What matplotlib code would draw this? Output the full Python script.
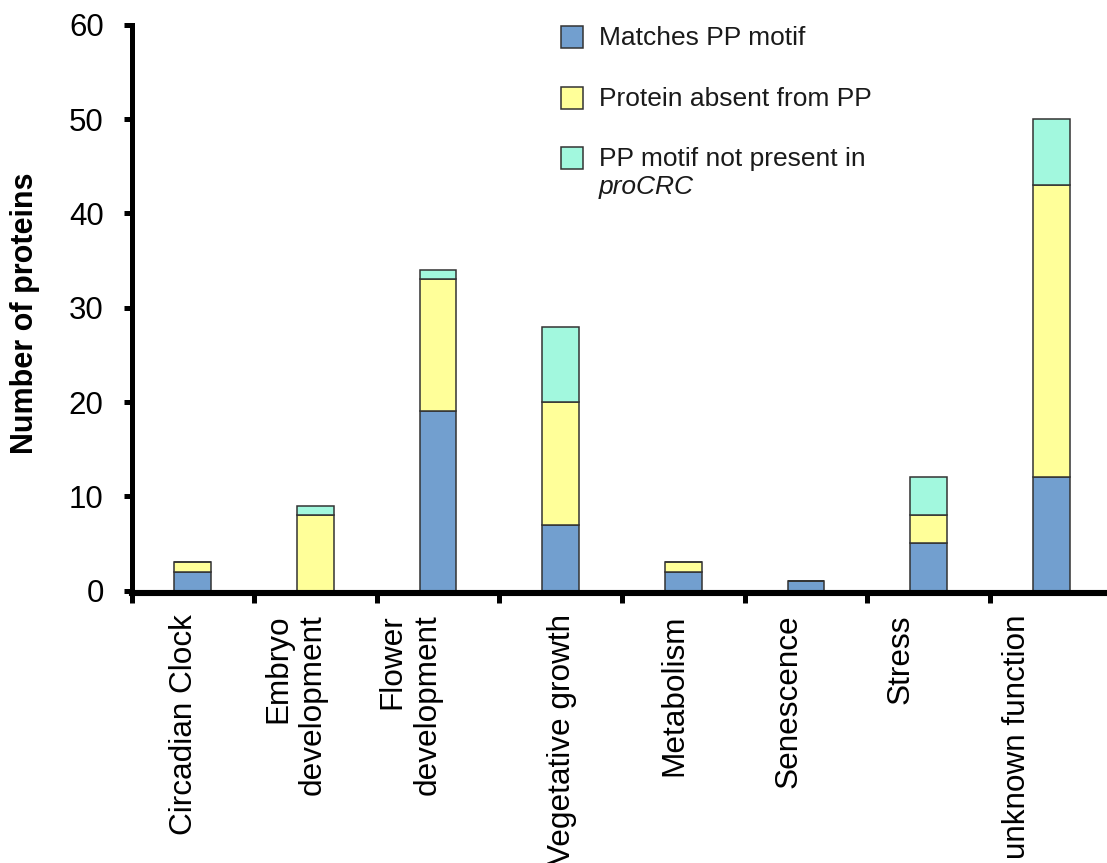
import matplotlib
matplotlib.use("Agg")
import matplotlib.pyplot as plt
import matplotlib.transforms as mtransforms
from matplotlib.patches import Rectangle
import numpy as np

plt.rcParams['font.family'] = ['Liberation Sans', 'DejaVu Sans']

# ---------------------------- data ----------------------------
categories = ['Circadian Clock', 'Embryo\ndevelopment', 'Flower\ndevelopment',
              'Vegetative growth', 'Metabolism', 'Senescence', 'Stress',
              'unknown function']
matches_pp = [2, 0, 19, 7, 2, 1, 5, 12]
absent_pp = [1, 8, 14, 13, 1, 0, 3, 31]
not_in_procrc = [0, 1, 1, 8, 0, 0, 4, 7]

series_labels = ['Matches PP motif', 'Protein absent from PP',
                 'PP motif not present in']
series_colors = ['#729fcf', '#ffff99', '#a2f8de']

# small horizontal nudges (px) of the category labels, as in the original layout
label_nudge_px = [-9, -20, -28, 1, -9, -17, -28, -34]

# ---------------------------- figure ----------------------------
W, H, DPI = 1107, 863, 100
fig = plt.figure(figsize=(W / DPI, H / DPI), dpi=DPI)
ax = fig.add_axes([131.5 / W, 1 - 590.5 / H, 981 / W, 565.5 / H])

x = np.arange(len(categories))
m = np.array(matches_pp)
a = np.array(absent_pp)
n = np.array(not_in_procrc)
bw = 0.3
edge = dict(edgecolor='#333333', linewidth=1.1)
ax.bar(x, m, bw, color=series_colors[0], **edge)
ax.bar(x, a, bw, bottom=m, color=series_colors[1], **edge)
ax.bar(x, n, bw, bottom=m + a, color=series_colors[2], **edge)

ax.set_xlim(-0.5, len(categories) - 0.5)
ax.set_ylim(0, 60)
ax.set_yticks(np.arange(0, 61, 10))

ax.spines['top'].set_visible(False)
ax.spines['right'].set_visible(False)
ax.spines['left'].set_linewidth(3.6)
ax.spines['bottom'].set_linewidth(4.4)
ax.spines['bottom'].set_position(('outward', 2))

ax.tick_params(axis='y', direction='out', length=6, width=3.6, pad=14,
               labelsize=22.5, color='black')
ax.set_xticks(x)
ax.set_xticks(np.arange(-0.5, len(categories) - 0.5, 1.0), minor=True)
ax.tick_params(axis='x', which='major', length=0, pad=15)
ax.tick_params(axis='x', which='minor', direction='out', length=7, width=3.6)
ax.set_xticklabels(categories, rotation=90, ha='center', va='top',
                   multialignment='right', fontsize=22.7)
for lab, dx in zip(ax.get_xticklabels(), label_nudge_px):
    lab.set_transform(lab.get_transform() +
                      mtransforms.ScaledTranslation(dx / DPI, 0, fig.dpi_scale_trans))

ax.set_ylabel('Number of proteins', fontsize=22, fontweight='bold',
              va='center', ha='center')
ax.yaxis.set_label_coords((25 - 131.5) / 981, 0.49)

# ---------------------------- legend ----------------------------
sq = 22
legend_rows = [37, 98, 158]
for lbl, col, yc in zip(series_labels, series_colors, legend_rows):
    fig.patches.append(Rectangle((561 / W, 1 - (yc + sq / 2) / H), sq / W, sq / H,
                                 transform=fig.transFigure, facecolor=col,
                                 edgecolor='#333333', linewidth=1.1))
    fig.text(599 / W, 1 - (yc + 8) / H, lbl, fontsize=19, va='baseline',
             color='#1a1a1a')
fig.text(599 / W, 1 - 194 / H, 'proCRC', fontsize=19, va='baseline',
         style='italic', color='#1a1a1a')

fig.savefig('out.png', dpi=DPI)
